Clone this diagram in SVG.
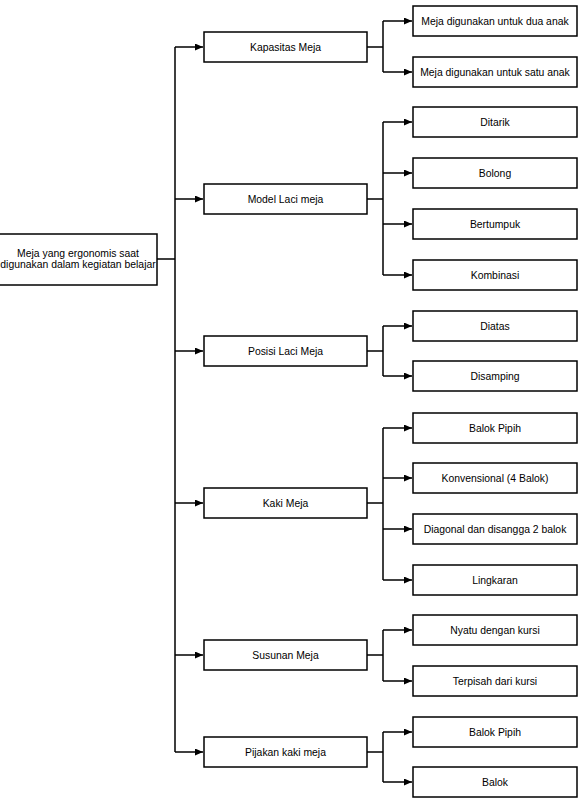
<svg xmlns="http://www.w3.org/2000/svg" width="584" height="801" viewBox="0 0 584 801">
<defs>
<marker id="arr" markerUnits="userSpaceOnUse" markerWidth="8" markerHeight="7" refX="8" refY="3.5" orient="auto">
<path d="M0,0 L8,3.5 L0,7 z" fill="#000"/>
</marker>
<style>
.box{fill:#fff;stroke:#000;stroke-width:1.5}
.t{font-family:"Liberation Sans",Arial,sans-serif;font-size:10.4px;fill:#000;text-anchor:middle;dominant-baseline:central}
.c{fill:none;stroke:#000;stroke-width:1.5}
</style>
</defs>
<rect width="584" height="801" fill="#fff"/>
<g id="connectors">
<path class="c" d="M157,259 H175 M175,47 V752"/>
<path class="c" d="M175,47 H203" marker-end="url(#arr)"/>
<path class="c" d="M175,199 H203" marker-end="url(#arr)"/>
<path class="c" d="M175,351 H203" marker-end="url(#arr)"/>
<path class="c" d="M175,503 H203" marker-end="url(#arr)"/>
<path class="c" d="M175,655 H203" marker-end="url(#arr)"/>
<path class="c" d="M175,752 H203" marker-end="url(#arr)"/>
<path class="c" d="M367,47 H383 M383,21 V72"/>
<path class="c" d="M383,21 H412" marker-end="url(#arr)"/>
<path class="c" d="M383,72 H412" marker-end="url(#arr)"/>
<path class="c" d="M367,199 H383 M383,122 V275"/>
<path class="c" d="M383,122 H412" marker-end="url(#arr)"/>
<path class="c" d="M383,173 H412" marker-end="url(#arr)"/>
<path class="c" d="M383,224 H412" marker-end="url(#arr)"/>
<path class="c" d="M383,275 H412" marker-end="url(#arr)"/>
<path class="c" d="M367,351 H383 M383,326 V376"/>
<path class="c" d="M383,326 H412" marker-end="url(#arr)"/>
<path class="c" d="M383,376 H412" marker-end="url(#arr)"/>
<path class="c" d="M367,503 H383 M383,428 V580"/>
<path class="c" d="M383,428 H412" marker-end="url(#arr)"/>
<path class="c" d="M383,478 H412" marker-end="url(#arr)"/>
<path class="c" d="M383,529 H412" marker-end="url(#arr)"/>
<path class="c" d="M383,580 H412" marker-end="url(#arr)"/>
<path class="c" d="M367,655 H383 M383,630 V681"/>
<path class="c" d="M383,630 H412" marker-end="url(#arr)"/>
<path class="c" d="M383,681 H412" marker-end="url(#arr)"/>
<path class="c" d="M367,752 H383 M383,732 V782"/>
<path class="c" d="M383,732 H412" marker-end="url(#arr)"/>
<path class="c" d="M383,782 H412" marker-end="url(#arr)"/>
</g>
<g id="root">
<rect class="box" x="-5" y="234" width="162" height="51"/>
<text class="t" x="78" y="253">Meja yang ergonomis saat</text>
<text class="t" x="78" y="264">digunakan dalam kegiatan belajar</text>
</g>
<g id="n1"><rect class="box" x="204" y="32" width="163" height="30"/><text class="t" x="285.5" y="47">Kapasitas Meja</text></g>
<g id="n2"><rect class="box" x="204" y="184" width="163" height="30"/><text class="t" x="285.5" y="199">Model Laci meja</text></g>
<g id="n3"><rect class="box" x="204" y="336" width="163" height="30"/><text class="t" x="285.5" y="351">Posisi Laci Meja</text></g>
<g id="n4"><rect class="box" x="204" y="488" width="163" height="30"/><text class="t" x="285.5" y="503">Kaki Meja</text></g>
<g id="n5"><rect class="box" x="204" y="640" width="163" height="30"/><text class="t" x="285.5" y="655">Susunan Meja</text></g>
<g id="n6"><rect class="box" x="204" y="737" width="163" height="30"/><text class="t" x="285.5" y="752">Pijakan kaki meja</text></g>
<g id="l1"><rect class="box" x="413" y="6" width="164" height="30"/><text class="t" x="495" y="21">Meja digunakan untuk dua anak</text></g>
<g id="l2"><rect class="box" x="413" y="57" width="164" height="30"/><text class="t" x="495" y="72">Meja digunakan untuk satu anak</text></g>
<g id="l3"><rect class="box" x="413" y="107" width="164" height="30"/><text class="t" x="495" y="122">Ditarik</text></g>
<g id="l4"><rect class="box" x="413" y="158" width="164" height="30"/><text class="t" x="495" y="173">Bolong</text></g>
<g id="l5"><rect class="box" x="413" y="209" width="164" height="30"/><text class="t" x="495" y="224">Bertumpuk</text></g>
<g id="l6"><rect class="box" x="413" y="260" width="164" height="30"/><text class="t" x="495" y="275">Kombinasi</text></g>
<g id="l7"><rect class="box" x="413" y="311" width="164" height="30"/><text class="t" x="495" y="326">Diatas</text></g>
<g id="l8"><rect class="box" x="413" y="361" width="164" height="30"/><text class="t" x="495" y="376">Disamping</text></g>
<g id="l9"><rect class="box" x="413" y="413" width="164" height="30"/><text class="t" x="495" y="428">Balok Pipih</text></g>
<g id="l10"><rect class="box" x="413" y="463" width="164" height="30"/><text class="t" x="495" y="478">Konvensional (4 Balok)</text></g>
<g id="l11"><rect class="box" x="413" y="514" width="164" height="30"/><text class="t" x="495" y="529">Diagonal dan disangga 2 balok</text></g>
<g id="l12"><rect class="box" x="413" y="565" width="164" height="30"/><text class="t" x="495" y="580">Lingkaran</text></g>
<g id="l13"><rect class="box" x="413" y="615" width="164" height="30"/><text class="t" x="495" y="630">Nyatu dengan kursi</text></g>
<g id="l14"><rect class="box" x="413" y="666" width="164" height="30"/><text class="t" x="495" y="681">Terpisah dari kursi</text></g>
<g id="l15"><rect class="box" x="413" y="717" width="164" height="30"/><text class="t" x="495" y="732">Balok Pipih</text></g>
<g id="l16"><rect class="box" x="413" y="767" width="164" height="30"/><text class="t" x="495" y="782">Balok</text></g>
</svg>
